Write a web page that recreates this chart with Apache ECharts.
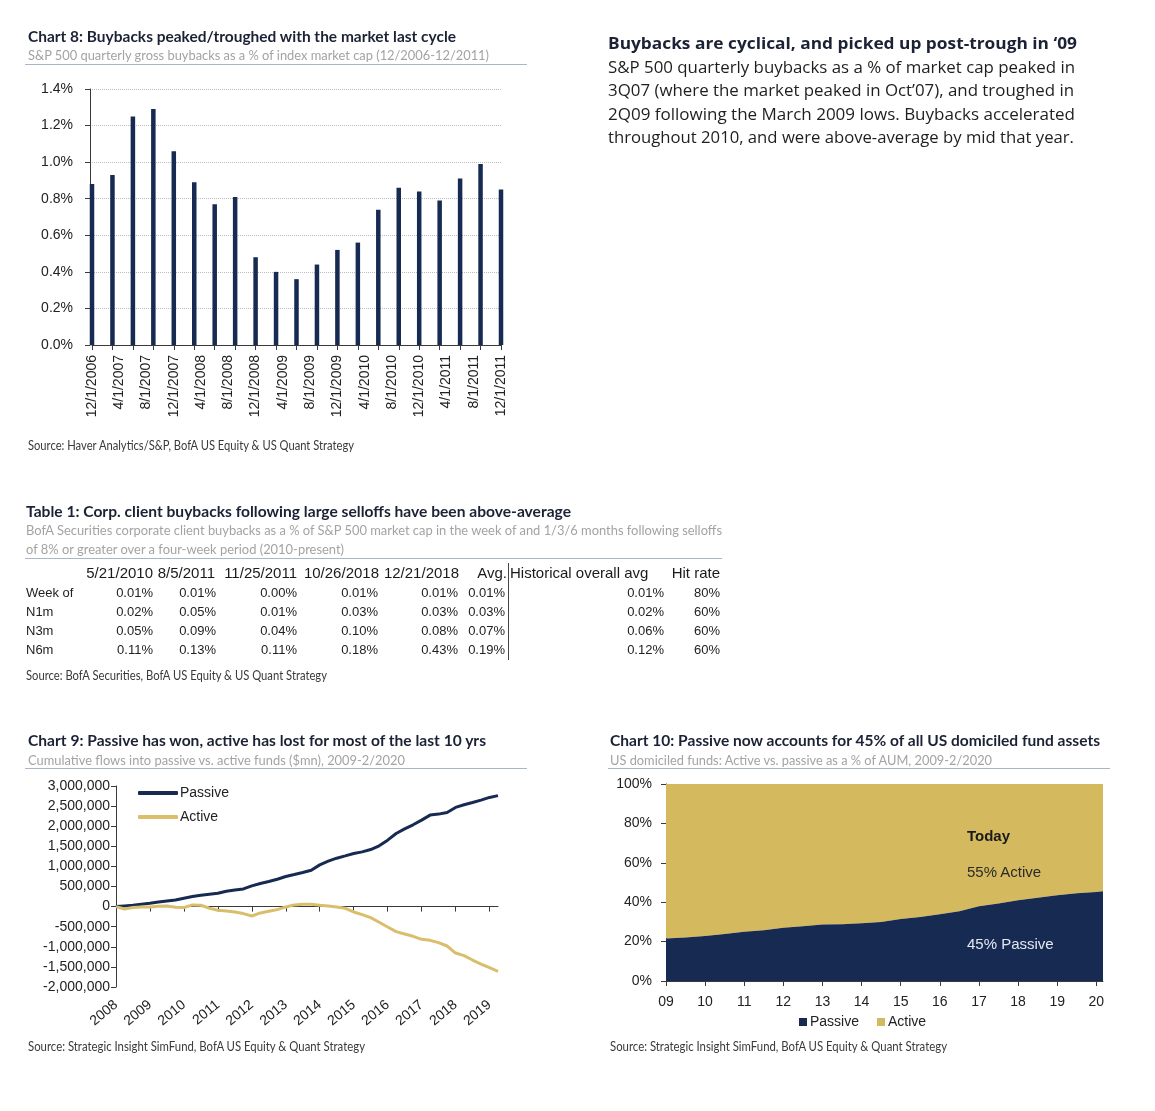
<!DOCTYPE html>
<html>
<head>
<meta charset="utf-8">
<script src="https://cdn.jsdelivr.net/npm/echarts@6/dist/echarts.min.js"></script>
<style>
html,body{margin:0;padding:0;background:#fff;}
#page{position:relative;width:1155px;height:1111px;overflow:hidden;background:#fff;}
#chart{position:absolute;left:0;top:0;width:1155px;height:1111px;}
.t{position:absolute;white-space:nowrap;transform-origin:0 50%;}
.rule{position:absolute;background:#a8b6cc;}
</style>
</head>
<body>
<div id="page"><div id="chart"></div></div>
<script>
// ---------------- DATA ----------------
// Chart 8: quarterly buybacks as % of market cap
const c8Quarters = ['12/1/2006','3/1/2007','6/1/2007','9/1/2007','12/1/2007','3/1/2008','6/1/2008','9/1/2008',
  '12/1/2008','3/1/2009','6/1/2009','9/1/2009','12/1/2009','3/1/2010','6/1/2010','9/1/2010','12/1/2010',
  '3/1/2011','6/1/2011','9/1/2011','12/1/2011'];
const c8Values = [0.88,0.93,1.25,1.29,1.06,0.89,0.77,0.81,0.48,0.40,0.36,0.44,0.52,0.56,0.74,0.86,0.84,0.79,0.91,0.99,0.85];

// Table 1
const t1Dates = ['5/21/2010','8/5/2011','11/25/2011','10/26/2018','12/21/2018'];
const t1Rows = ['Week of','N1m','N3m','N6m'];
const t1Values = [
  [0.01,0.01,0.00,0.01,0.01],
  [0.02,0.05,0.01,0.03,0.03],
  [0.05,0.09,0.04,0.10,0.08],
  [0.11,0.13,0.11,0.18,0.43]
];
const t1Avg = [0.01,0.03,0.07,0.19];
const t1Hist = [0.01,0.02,0.06,0.12];
const t1Hit = ['80%','60%','60%','60%'];

// Chart 9: cumulative flows ($mn), quarterly
const c9Years = ['2008','2009','2010','2011','2012','2013','2014','2015','2016','2017','2018','2019'];
const c9Passive = [0,17000,33000,58000,83000,116000,141000,166000,208000,249000,282000,307000,332000,382000,415000,440000,
  515000,573000,623000,681000,748000,797000,847000,905000,1038000,1130000,1204000,1262000,1321000,1362000,1420000,1512000,
  1653000,1819000,1935000,2035000,2151000,2276000,2301000,2342000,2467000,2533000,2591000,2650000,2716000,2760000];
const c9Active = [0,-58000,-25000,-8000,-8000,8000,17000,-17000,-25000,42000,33000,-42000,-91000,-108000,-133000,-174000,
  -233000,-158000,-116000,-75000,-8000,42000,58000,58000,33000,17000,-8000,-42000,-133000,-199000,-274000,-390000,
  -507000,-623000,-681000,-739000,-814000,-839000,-897000,-980000,-1155000,-1221000,-1329000,-1429000,-1520000,-1610000];

// Chart 10: passive share of AUM (%), semiannual + Feb 2020 (active = the rest, up to 100%)
const c10Dates = [2009.0,2009.5,2010.0,2010.5,2011.0,2011.5,2012.0,2012.5,2013.0,2013.5,2014.0,2014.5,2015.0,2015.5,
  2016.0,2016.5,2017.0,2017.5,2018.0,2018.5,2019.0,2019.5,2020.0,2020.17];
const c10Passive = [21.6,22.1,22.8,23.8,25.0,25.8,27.0,27.8,28.7,28.8,29.3,30.0,31.5,32.5,33.9,35.4,37.9,39.3,41.0,42.2,43.5,44.5,45.2,45.5];
const c10TickLabels = ['09','10','11','12','13','14','15','16','17','18','19','20'];

// ---------------- TEXT LAYOUT ----------------
const FAM_HEAD = "Lato, 'Open Sans', sans-serif";
const FAM_BODY = "'Open Sans', Lato, sans-serif";
const FAM_CHART = "'Liberation Sans', Arial, sans-serif";
const NAVY = '#172a52', GOLD = '#d5b95f', GOLD_LINE = '#d9bf6c';
const page = document.getElementById('page');

function T(txt, x, y, size, o) {
  o = o || {};
  const el = document.createElement('div');
  el.className = 't';
  el.textContent = txt;
  el.style.fontFamily = o.family || FAM_HEAD;
  el.style.fontSize = size + 'px';
  el.style.fontWeight = o.weight || 400;
  el.style.color = o.color || '#222';
  el.style.lineHeight = Math.round(size * 1.2) + 'px';
  el.style.top = (y - size * 0.62) + 'px';
  page.appendChild(el);
  const w = el.getBoundingClientRect().width;
  let sx = 1;
  if (o.width) sx = o.width / w;
  if (o.align === 'right') { el.style.left = (x - w) + 'px'; el.style.transformOrigin = '100% 50%'; }
  else el.style.left = x + 'px';
  if (sx !== 1) el.style.transform = 'scaleX(' + sx + ')';
  return el;
}
function rule(x1, x2, y, color) {
  const d = document.createElement('div');
  d.className = 'rule';
  d.style.left = x1 + 'px'; d.style.top = y + 'px';
  d.style.width = (x2 - x1) + 'px'; d.style.height = '1px';
  if (color) d.style.background = color;
  page.appendChild(d);
}
function vrule(x, y1, y2, color) {
  const d = document.createElement('div');
  d.className = 'rule';
  d.style.left = x + 'px'; d.style.top = y1 + 'px';
  d.style.width = '1px'; d.style.height = (y2 - y1) + 'px';
  d.style.background = color || '#555';
  page.appendChild(d);
}
const TITLE_C = '#1c2235', SUB_C = '#a3a3a3', SRC_C = '#3a3a3a';

// Chart 8 heading
T('Chart 8: Buybacks peaked/troughed with the market last cycle', 28, 36, 16, {weight:700, color:TITLE_C, width:428});
T('S&P 500 quarterly gross buybacks as a % of index market cap (12/2006-12/2011)', 28, 55, 14, {color:SUB_C, width:461});
rule(25, 527, 64);
T('Source: Haver Analytics/S&P, BofA US Equity & US Quant Strategy', 28, 446, 12.5, {color:SRC_C, width:326});

// Right text block
T('Buybacks are cyclical, and picked up post-trough in \u201809', 608, 43.5, 16, {family:FAM_BODY, weight:700, color:TITLE_C, width:469});
T('S&P 500 quarterly buybacks as a % of market cap peaked in', 608, 67.5, 16, {family:FAM_BODY, color:'#1e1e1e', width:467});
T('3Q07 (where the market peaked in Oct\u201907), and troughed in', 608, 91, 16, {family:FAM_BODY, color:'#1e1e1e', width:466});
T('2Q09 following the March 2009 lows. Buybacks accelerated', 608, 114.5, 16, {family:FAM_BODY, color:'#1e1e1e', width:467});
T('throughout 2010, and were above-average by mid that year.', 608, 137.5, 16, {family:FAM_BODY, color:'#1e1e1e', width:466});

// Table 1
T('Table 1: Corp. client buybacks following large selloffs have been above-average', 26, 511, 16, {weight:700, color:TITLE_C, width:545});
T('BofA Securities corporate client buybacks as a % of S&P 500 market cap in the week of and 1/3/6 months following selloffs', 26, 530, 14, {color:SUB_C, width:696});
T('of 8% or greater over a four-week period (2010-present)', 26, 549, 14, {color:SUB_C, width:318});
rule(25, 722, 558);
const colHeadRight = [153, 215, 297, 379, 459];
const colValRight = [153, 216, 297, 378, 458];
const headY = 573, rowY = [593, 612, 631, 650];
t1Dates.forEach((d, i) => T(d, colHeadRight[i], headY, 15, {family:FAM_CHART, color:'#1a1a1a', align:'right'}));
T('Avg.', 507, headY, 15, {family:FAM_CHART, color:'#1a1a1a', align:'right'});
T('Historical overall avg', 510, headY, 15, {family:FAM_CHART, color:'#1a1a1a'});
T('Hit rate', 720, headY, 15, {family:FAM_CHART, color:'#1a1a1a', align:'right'});
t1Rows.forEach((r, ri) => {
  T(r, 26, rowY[ri], 13, {family:FAM_CHART, color:'#222'});
  t1Values[ri].forEach((v, ci) => T(v.toFixed(2) + '%', colValRight[ci], rowY[ri], 13, {family:FAM_CHART, color:'#222', align:'right'}));
  T(t1Avg[ri].toFixed(2) + '%', 505, rowY[ri], 13, {family:FAM_CHART, color:'#222', align:'right'});
  T(t1Hist[ri].toFixed(2) + '%', 664, rowY[ri], 13, {family:FAM_CHART, color:'#222', align:'right'});
  T(t1Hit[ri], 720, rowY[ri], 13, {family:FAM_CHART, color:'#222', align:'right'});
});
vrule(508, 563, 660, '#444');
T('Source: BofA Securities, BofA US Equity & US Quant Strategy', 26, 676, 12.5, {color:SRC_C, width:301});

// Chart 9 heading
T('Chart 9: Passive has won, active has lost for most of the last 10 yrs', 28, 740, 16, {weight:700, color:TITLE_C, width:458});
T('Cumulative flows into passive vs. active funds ($mn), 2009-2/2020', 28, 760, 14, {color:SUB_C, width:377});
rule(25, 527, 768);
T('Source: Strategic Insight SimFund, BofA US Equity & Quant Strategy', 28, 1047, 12.5, {color:SRC_C, width:337});

// Chart 10 heading
T('Chart 10: Passive now accounts for 45% of all US domiciled fund assets', 610, 740, 16, {weight:700, color:TITLE_C, width:490});
T('US domiciled funds: Active vs. passive as a % of AUM, 2009-2/2020', 610, 760, 14, {color:SUB_C, width:382});
rule(608, 1110, 768);
T('Source: Strategic Insight SimFund, BofA US Equity & Quant Strategy', 610, 1047, 12.5, {color:SRC_C, width:337});

// Chart 10 annotations
T('Today', 967, 836, 15, {family:FAM_CHART, weight:700, color:'#1a1a1a'});
T('55% Active', 967, 872, 15, {family:FAM_CHART, color:'#2a2a2a'});
T('45% Passive', 967, 944, 15, {family:FAM_CHART, color:'#e3e8f1'});

// ---------------- CHARTS ----------------
// monthly category axis for chart 8 (12/2006 .. 12/2011)
const c8Months = [];
{
  let y = 2006, m = 12;
  while (y < 2011 || (y === 2011 && m <= 12)) {
    c8Months.push(m + '/1/' + y);
    m++; if (m > 12) { m = 1; y++; }
  }
}
const c8BarData = c8Months.map(mm => { const i = c8Quarters.indexOf(mm); return i >= 0 ? c8Values[i] : '-'; });

// quarterly categories for chart 9
const c9Cats = c9Passive.map((_, q) => c9Years[Math.min(Math.floor(q / 4), c9Years.length - 1)] + ' Q' + (q % 4 + 1));

const c10PassiveData = c10Dates.map((d, i) => [d, c10Passive[i]]);

const axisCol = '#3a3a3a';
const chart = echarts.init(document.getElementById('chart'), null, {renderer:'canvas'});
chart.setOption({
  animation: false,
  textStyle: {fontFamily: FAM_CHART},
  grid: [
    {left: 92, top: 89, width: 409, height: 256},
    {left: 116, top: 786, width: 382, height: 201},
    {left: 666, top: 784, width: 437, height: 197}
  ],
  xAxis: [
    {gridIndex: 0, type: 'category', data: c8Months, boundaryGap: false,
      axisLine: {lineStyle: {color: axisCol}},
      axisTick: {show: true, interval: (i) => i % 3 === 0, length: 5, lineStyle: {color: axisCol}},
      axisLabel: {interval: (i) => i % 4 === 0, rotate: 90, fontSize: 14, color: '#222', margin: 10},
      splitLine: {show: false}},
    {gridIndex: 1, type: 'category', data: c9Cats, boundaryGap: false,
      axisLine: {onZero: true, lineStyle: {color: axisCol}},
      axisTick: {show: true, interval: (i) => i % 4 === 0, length: 5, lineStyle: {color: axisCol}},
      axisLabel: {interval: (i) => i % 4 === 0, formatter: (v) => v.slice(0, 4), rotate: 40, margin: 16, fontSize: 14, color: '#222'},
      splitLine: {show: false}},
    {gridIndex: 2, type: 'value', min: 2009, max: 2020.17, interval: 1,
      axisLine: {show: true, onZero: false, lineStyle: {color: axisCol}},
      axisTick: {show: true, length: 5, lineStyle: {color: axisCol}},
      axisLabel: {formatter: (v) => (Number.isInteger(v) ? c10TickLabels[v - 2009] : ''), fontSize: 14, color: '#222', margin: 14,
        showMinLabel: true, showMaxLabel: false},
      splitLine: {show: false}}
  ],
  yAxis: [
    {gridIndex: 0, type: 'value', min: 0, max: 1.4, interval: 0.2, offset: 2,
      axisLine: {show: true, lineStyle: {color: axisCol}},
      axisTick: {show: true, length: 5, lineStyle: {color: axisCol}},
      axisLabel: {formatter: (v) => v.toFixed(1) + '%', fontSize: 14, color: '#222', margin: 17},
      splitLine: {show: true, lineStyle: {type: 'dotted', color: '#bdbdbd', width: 1}}},
    {gridIndex: 1, type: 'value', min: -2000000, max: 3000000, interval: 500000,
      axisLine: {show: true, lineStyle: {color: axisCol}},
      axisTick: {show: true, length: 5, lineStyle: {color: axisCol}},
      axisLabel: {formatter: (v) => v.toLocaleString('en-US'), fontSize: 14, color: '#222', margin: 6},
      splitLine: {show: false}},
    {gridIndex: 2, type: 'value', min: 0, max: 100, interval: 20,
      axisLine: {show: true, onZero: false, lineStyle: {color: axisCol}},
      axisTick: {show: true, length: 5, lineStyle: {color: axisCol}},
      axisLabel: {formatter: (v) => v + '%', fontSize: 14, color: '#222', margin: 14},
      splitLine: {show: false}}
  ],
  legend: [
    {data: [{name: 'Passive', icon: 'roundRect', itemStyle: {color: NAVY}}, {name: 'Active', icon: 'roundRect', itemStyle: {color: GOLD_LINE}}],
      left: 138, top: 786, orient: 'vertical', itemWidth: 40, itemHeight: 4, itemGap: 10,
      padding: 0, selectedMode: false, textStyle: {fontSize: 14, color: '#222', fontFamily: FAM_CHART, padding: [0, 0, 0, -3]}},
    {data: [{name: 'Passive', icon: 'rect', itemStyle: {color: NAVY}}, {name: 'Active', icon: 'rect', itemStyle: {color: GOLD}}],
      left: 799, top: 1015, orient: 'horizontal', itemWidth: 8, itemHeight: 8, itemGap: 18,
      padding: 0, selectedMode: false, textStyle: {fontSize: 14, color: '#222', fontFamily: FAM_CHART, padding: [0, 0, 0, -2]}}
  ],
  series: [
    {name: 'Buybacks', type: 'bar', xAxisIndex: 0, yAxisIndex: 0, data: c8BarData, barWidth: 4.5,
      itemStyle: {color: NAVY}},
    {name: 'Passive', type: 'line', xAxisIndex: 1, yAxisIndex: 1, data: c9Passive, symbol: 'none',
      lineStyle: {color: NAVY, width: 3}, itemStyle: {color: NAVY}},
    {name: 'Active', type: 'line', xAxisIndex: 1, yAxisIndex: 1, data: c9Active, symbol: 'none',
      lineStyle: {color: GOLD_LINE, width: 3}, itemStyle: {color: GOLD_LINE}},
    // Active share: the band between the passive share and 100%
    {name: 'Active', type: 'line', xAxisIndex: 2, yAxisIndex: 2, data: c10PassiveData, symbol: 'none',
      lineStyle: {width: 0}, areaStyle: {color: GOLD, opacity: 1, origin: 'end'}, itemStyle: {color: GOLD}, z: 2},
    {name: 'Passive', type: 'line', xAxisIndex: 2, yAxisIndex: 2, data: c10PassiveData, symbol: 'none',
      lineStyle: {width: 0}, areaStyle: {color: NAVY, opacity: 1, origin: 'start'}, itemStyle: {color: NAVY}, z: 3}
  ]
});
</script>
</body>
</html>
